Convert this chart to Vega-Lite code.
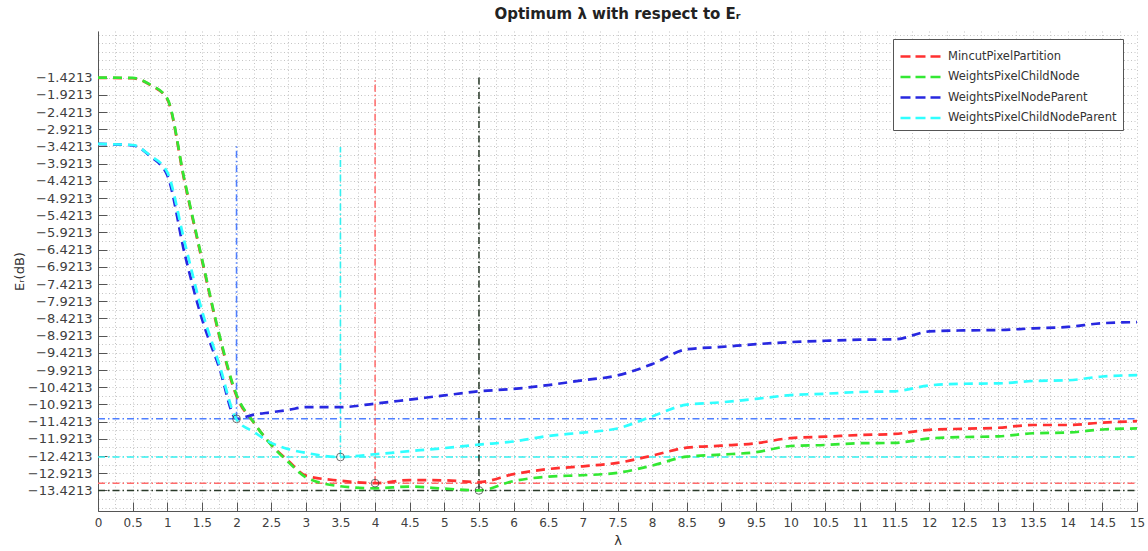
{
  "$schema": "https://vega.github.io/schema/vega-lite/v6.json",
  "width": 1039,
  "height": 480,
  "autosize": {"type": "none"},
  "padding": {"left": 98, "top": 31, "right": 11, "bottom": 40},
  "background": "white",
  "title": {"text": "Optimum λ with respect to Eᵣ", "font": "DejaVu Sans", "fontSize": 15, "fontWeight": "bold", "color": "#222222", "anchor": "middle", "offset": 9},
  "config": {"view": {"stroke": null}, "axis": {"labelOverlap": false}},
  "datasets": {
    "curves": [
      {"series": "MincutPixelPartition", "x": 0, "y": -1.43},
      {"series": "MincutPixelPartition", "x": 0.5, "y": -1.44},
      {"series": "MincutPixelPartition", "x": 0.75, "y": -1.63},
      {"series": "MincutPixelPartition", "x": 1, "y": -2.05},
      {"series": "MincutPixelPartition", "x": 1.25, "y": -4.45},
      {"series": "MincutPixelPartition", "x": 1.5, "y": -6.72},
      {"series": "MincutPixelPartition", "x": 1.75, "y": -8.92},
      {"series": "MincutPixelPartition", "x": 2, "y": -10.68},
      {"series": "MincutPixelPartition", "x": 2.25, "y": -11.45},
      {"series": "MincutPixelPartition", "x": 2.5, "y": -12.09},
      {"series": "MincutPixelPartition", "x": 2.75, "y": -12.57},
      {"series": "MincutPixelPartition", "x": 3, "y": -12.99},
      {"series": "MincutPixelPartition", "x": 3.5, "y": -13.14},
      {"series": "MincutPixelPartition", "x": 4, "y": -13.21},
      {"series": "MincutPixelPartition", "x": 4.5, "y": -13.12},
      {"series": "MincutPixelPartition", "x": 5, "y": -13.13},
      {"series": "MincutPixelPartition", "x": 5.5, "y": -13.18},
      {"series": "MincutPixelPartition", "x": 6, "y": -12.95},
      {"series": "MincutPixelPartition", "x": 6.5, "y": -12.8},
      {"series": "MincutPixelPartition", "x": 7, "y": -12.72},
      {"series": "MincutPixelPartition", "x": 7.5, "y": -12.62},
      {"series": "MincutPixelPartition", "x": 8, "y": -12.41},
      {"series": "MincutPixelPartition", "x": 8.5, "y": -12.18},
      {"series": "MincutPixelPartition", "x": 9, "y": -12.12},
      {"series": "MincutPixelPartition", "x": 9.5, "y": -12.05},
      {"series": "MincutPixelPartition", "x": 10, "y": -11.9},
      {"series": "MincutPixelPartition", "x": 10.5, "y": -11.86},
      {"series": "MincutPixelPartition", "x": 11, "y": -11.81},
      {"series": "MincutPixelPartition", "x": 11.5, "y": -11.78},
      {"series": "MincutPixelPartition", "x": 12, "y": -11.66},
      {"series": "MincutPixelPartition", "x": 12.5, "y": -11.63},
      {"series": "MincutPixelPartition", "x": 13, "y": -11.6},
      {"series": "MincutPixelPartition", "x": 13.5, "y": -11.52},
      {"series": "MincutPixelPartition", "x": 14, "y": -11.52},
      {"series": "MincutPixelPartition", "x": 14.5, "y": -11.45},
      {"series": "MincutPixelPartition", "x": 15, "y": -11.41},

      {"series": "WeightsPixelChildNode", "x": 0, "y": -1.4213},
      {"series": "WeightsPixelChildNode", "x": 0.5, "y": -1.43},
      {"series": "WeightsPixelChildNode", "x": 0.75, "y": -1.62},
      {"series": "WeightsPixelChildNode", "x": 1, "y": -2.03},
      {"series": "WeightsPixelChildNode", "x": 1.25, "y": -4.41},
      {"series": "WeightsPixelChildNode", "x": 1.5, "y": -6.68},
      {"series": "WeightsPixelChildNode", "x": 1.75, "y": -8.88},
      {"series": "WeightsPixelChildNode", "x": 2, "y": -10.64},
      {"series": "WeightsPixelChildNode", "x": 2.25, "y": -11.45},
      {"series": "WeightsPixelChildNode", "x": 2.5, "y": -12.1},
      {"series": "WeightsPixelChildNode", "x": 2.75, "y": -12.6},
      {"series": "WeightsPixelChildNode", "x": 3, "y": -13.04},
      {"series": "WeightsPixelChildNode", "x": 3.5, "y": -13.3},
      {"series": "WeightsPixelChildNode", "x": 4, "y": -13.36},
      {"series": "WeightsPixelChildNode", "x": 4.5, "y": -13.31},
      {"series": "WeightsPixelChildNode", "x": 5, "y": -13.37},
      {"series": "WeightsPixelChildNode", "x": 5.5, "y": -13.4213},
      {"series": "WeightsPixelChildNode", "x": 6, "y": -13.15},
      {"series": "WeightsPixelChildNode", "x": 6.5, "y": -13.02},
      {"series": "WeightsPixelChildNode", "x": 7, "y": -12.98},
      {"series": "WeightsPixelChildNode", "x": 7.5, "y": -12.91},
      {"series": "WeightsPixelChildNode", "x": 8, "y": -12.7},
      {"series": "WeightsPixelChildNode", "x": 8.5, "y": -12.44},
      {"series": "WeightsPixelChildNode", "x": 9, "y": -12.38},
      {"series": "WeightsPixelChildNode", "x": 9.5, "y": -12.31},
      {"series": "WeightsPixelChildNode", "x": 10, "y": -12.13},
      {"series": "WeightsPixelChildNode", "x": 10.5, "y": -12.1},
      {"series": "WeightsPixelChildNode", "x": 11, "y": -12.05},
      {"series": "WeightsPixelChildNode", "x": 11.5, "y": -12.04},
      {"series": "WeightsPixelChildNode", "x": 12, "y": -11.91},
      {"series": "WeightsPixelChildNode", "x": 12.5, "y": -11.87},
      {"series": "WeightsPixelChildNode", "x": 13, "y": -11.85},
      {"series": "WeightsPixelChildNode", "x": 13.5, "y": -11.76},
      {"series": "WeightsPixelChildNode", "x": 14, "y": -11.74},
      {"series": "WeightsPixelChildNode", "x": 14.5, "y": -11.65},
      {"series": "WeightsPixelChildNode", "x": 15, "y": -11.62},

      {"series": "WeightsPixelNodeParent", "x": 0, "y": -3.35},
      {"series": "WeightsPixelNodeParent", "x": 0.5, "y": -3.39},
      {"series": "WeightsPixelNodeParent", "x": 0.75, "y": -3.7},
      {"series": "WeightsPixelNodeParent", "x": 1, "y": -4.26},
      {"series": "WeightsPixelNodeParent", "x": 1.25, "y": -6.53},
      {"series": "WeightsPixelNodeParent", "x": 1.5, "y": -8.43},
      {"series": "WeightsPixelNodeParent", "x": 1.75, "y": -9.85},
      {"series": "WeightsPixelNodeParent", "x": 2, "y": -11.34},
      {"series": "WeightsPixelNodeParent", "x": 2.25, "y": -11.22},
      {"series": "WeightsPixelNodeParent", "x": 2.5, "y": -11.15},
      {"series": "WeightsPixelNodeParent", "x": 2.75, "y": -11.08},
      {"series": "WeightsPixelNodeParent", "x": 3, "y": -11.0},
      {"series": "WeightsPixelNodeParent", "x": 3.5, "y": -11.0},
      {"series": "WeightsPixelNodeParent", "x": 4, "y": -10.9},
      {"series": "WeightsPixelNodeParent", "x": 4.5, "y": -10.78},
      {"series": "WeightsPixelNodeParent", "x": 5, "y": -10.66},
      {"series": "WeightsPixelNodeParent", "x": 5.5, "y": -10.54},
      {"series": "WeightsPixelNodeParent", "x": 6, "y": -10.47},
      {"series": "WeightsPixelNodeParent", "x": 6.5, "y": -10.36},
      {"series": "WeightsPixelNodeParent", "x": 7, "y": -10.22},
      {"series": "WeightsPixelNodeParent", "x": 7.5, "y": -10.08},
      {"series": "WeightsPixelNodeParent", "x": 8, "y": -9.75},
      {"series": "WeightsPixelNodeParent", "x": 8.5, "y": -9.32},
      {"series": "WeightsPixelNodeParent", "x": 9, "y": -9.25},
      {"series": "WeightsPixelNodeParent", "x": 9.5, "y": -9.17},
      {"series": "WeightsPixelNodeParent", "x": 10, "y": -9.11},
      {"series": "WeightsPixelNodeParent", "x": 10.5, "y": -9.07},
      {"series": "WeightsPixelNodeParent", "x": 11, "y": -9.04},
      {"series": "WeightsPixelNodeParent", "x": 11.5, "y": -9.03},
      {"series": "WeightsPixelNodeParent", "x": 12, "y": -8.8},
      {"series": "WeightsPixelNodeParent", "x": 12.5, "y": -8.77},
      {"series": "WeightsPixelNodeParent", "x": 13, "y": -8.76},
      {"series": "WeightsPixelNodeParent", "x": 13.5, "y": -8.71},
      {"series": "WeightsPixelNodeParent", "x": 14, "y": -8.67},
      {"series": "WeightsPixelNodeParent", "x": 14.5, "y": -8.56},
      {"series": "WeightsPixelNodeParent", "x": 15, "y": -8.53},

      {"series": "WeightsPixelChildNodeParent", "x": 0, "y": -3.35},
      {"series": "WeightsPixelChildNodeParent", "x": 0.5, "y": -3.38},
      {"series": "WeightsPixelChildNodeParent", "x": 0.75, "y": -3.68},
      {"series": "WeightsPixelChildNodeParent", "x": 1, "y": -4.17},
      {"series": "WeightsPixelChildNodeParent", "x": 1.25, "y": -6.2},
      {"series": "WeightsPixelChildNodeParent", "x": 1.5, "y": -8.19},
      {"series": "WeightsPixelChildNodeParent", "x": 1.75, "y": -9.75},
      {"series": "WeightsPixelChildNodeParent", "x": 2, "y": -11.36},
      {"series": "WeightsPixelChildNodeParent", "x": 2.25, "y": -11.72},
      {"series": "WeightsPixelChildNodeParent", "x": 2.5, "y": -12.04},
      {"series": "WeightsPixelChildNodeParent", "x": 2.75, "y": -12.22},
      {"series": "WeightsPixelChildNodeParent", "x": 3, "y": -12.33},
      {"series": "WeightsPixelChildNodeParent", "x": 3.5, "y": -12.45},
      {"series": "WeightsPixelChildNodeParent", "x": 4, "y": -12.37},
      {"series": "WeightsPixelChildNodeParent", "x": 4.5, "y": -12.28},
      {"series": "WeightsPixelChildNodeParent", "x": 5, "y": -12.19},
      {"series": "WeightsPixelChildNodeParent", "x": 5.5, "y": -12.09},
      {"series": "WeightsPixelChildNodeParent", "x": 6, "y": -12.0},
      {"series": "WeightsPixelChildNodeParent", "x": 6.5, "y": -11.84},
      {"series": "WeightsPixelChildNodeParent", "x": 7, "y": -11.74},
      {"series": "WeightsPixelChildNodeParent", "x": 7.5, "y": -11.62},
      {"series": "WeightsPixelChildNodeParent", "x": 8, "y": -11.27},
      {"series": "WeightsPixelChildNodeParent", "x": 8.5, "y": -10.93},
      {"series": "WeightsPixelChildNodeParent", "x": 9, "y": -10.86},
      {"series": "WeightsPixelChildNodeParent", "x": 9.5, "y": -10.76},
      {"series": "WeightsPixelChildNodeParent", "x": 10, "y": -10.65},
      {"series": "WeightsPixelChildNodeParent", "x": 10.5, "y": -10.61},
      {"series": "WeightsPixelChildNodeParent", "x": 11, "y": -10.56},
      {"series": "WeightsPixelChildNodeParent", "x": 11.5, "y": -10.54},
      {"series": "WeightsPixelChildNodeParent", "x": 12, "y": -10.37},
      {"series": "WeightsPixelChildNodeParent", "x": 12.5, "y": -10.32},
      {"series": "WeightsPixelChildNodeParent", "x": 13, "y": -10.31},
      {"series": "WeightsPixelChildNodeParent", "x": 13.5, "y": -10.24},
      {"series": "WeightsPixelChildNodeParent", "x": 14, "y": -10.22},
      {"series": "WeightsPixelChildNodeParent", "x": 14.5, "y": -10.11},
      {"series": "WeightsPixelChildNodeParent", "x": 15, "y": -10.07}
    ],
    "refs": [
      {"series": "WeightsPixelNodeParent", "x": 0, "x2": 15, "y": -11.34, "y2": -11.34},
      {"series": "WeightsPixelNodeParent", "x": 2, "x2": 2, "y": -11.34, "y2": -3.36},
      {"series": "WeightsPixelChildNodeParent", "x": 0, "x2": 15, "y": -12.45, "y2": -12.45},
      {"series": "WeightsPixelChildNodeParent", "x": 3.5, "x2": 3.5, "y": -12.45, "y2": -3.44},
      {"series": "MincutPixelPartition", "x": 0, "x2": 15, "y": -13.21, "y2": -13.21},
      {"series": "MincutPixelPartition", "x": 4, "x2": 4, "y": -13.21, "y2": -1.44},
      {"series": "WeightsPixelChildNode", "x": 0, "x2": 15, "y": -13.4213, "y2": -13.4213},
      {"series": "WeightsPixelChildNode", "x": 5.5, "x2": 5.5, "y": -13.4213, "y2": -1.40}
    ],
    "mins": [
      {"series": "WeightsPixelNodeParent", "x": 2, "y": -11.34},
      {"series": "WeightsPixelChildNodeParent", "x": 3.5, "y": -12.45},
      {"series": "MincutPixelPartition", "x": 4, "y": -13.21},
      {"series": "WeightsPixelChildNode", "x": 5.5, "y": -13.4213}
    ]
  },
  "layer": [
    {
      "data": {"name": "mins"},
      "mark": {"type": "point", "opacity": 0},
      "encoding": {
        "x": {
          "field": "x", "type": "quantitative",
          "scale": {"domain": [0, 15], "nice": false, "zero": false},
          "axis": {
            "orient": "bottom",
            "values": [0,0.25,0.5,0.75,1,1.25,1.5,1.75,2,2.25,2.5,2.75,3,3.25,3.5,3.75,4,4.25,4.5,4.75,5,5.25,5.5,5.75,6,6.25,6.5,6.75,7,7.25,7.5,7.75,8,8.25,8.5,8.75,9,9.25,9.5,9.75,10,10.25,10.5,10.75,11,11.25,11.5,11.75,12,12.25,12.5,12.75,13,13.25,13.5,13.75,14,14.25,14.5,14.75,15],
            "title": null, "labels": false, "ticks": false, "domain": false,
            "grid": true, "gridColor": "#c4c4c4", "gridDash": [1, 2.5], "gridWidth": 1
          }
        },
        "y": {
          "field": "y", "type": "quantitative",
          "scale": {"domain": [-14.02, -0.066], "nice": false, "zero": false},
          "axis": {
            "orient": "left",
            "values": [-13.9213,-13.6713,-13.4213,-13.1713,-12.9213,-12.6713,-12.4213,-12.1713,-11.9213,-11.6713,-11.4213,-11.1713,-10.9213,-10.6713,-10.4213,-10.1713,-9.9213,-9.6713,-9.4213,-9.1713,-8.9213,-8.6713,-8.4213,-8.1713,-7.9213,-7.6713,-7.4213,-7.1713,-6.9213,-6.6713,-6.4213,-6.1713,-5.9213,-5.6713,-5.4213,-5.1713,-4.9213,-4.6713,-4.4213,-4.1713,-3.9213,-3.6713,-3.4213,-3.1713,-2.9213,-2.6713,-2.4213,-2.1713,-1.9213,-1.6713,-1.4213,-1.1713,-0.9213,-0.6713,-0.4213,-0.1713],
            "title": null, "labels": false, "ticks": false, "domain": false,
            "grid": true, "gridColor": "#c4c4c4", "gridDash": [1, 2.5], "gridWidth": 1
          }
        }
      }
    },
    {
      "data": {"name": "refs"},
      "mark": {"type": "rule", "strokeDash": [7, 3, 1.5, 3]},
      "encoding": {
        "x": {
          "field": "x", "type": "quantitative", "title": "λ",
          "axis": {
            "orient": "bottom",
            "values": [0,0.5,1,1.5,2,2.5,3,3.5,4,4.5,5,5.5,6,6.5,7,7.5,8,8.5,9,9.5,10,10.5,11,11.5,12,12.5,13,13.5,14,14.5,15],
            "title": "λ",
            "titleFont": "DejaVu Sans", "titleFontSize": 13, "titleFontWeight": "normal", "titleColor": "#333333", "titlePadding": 6,
            "labelExpr": "''+datum.value",
            "labelFont": "DejaVu Sans", "labelFontSize": 12, "labelColor": "#404040", "labelPadding": 15, "labelFlush": false, "labelOverlap": false,
            "tickSize": -9, "tickColor": "#555555", "tickWidth": 1,
            "domainColor": "#555555", "domainWidth": 1,
            "grid": false
          }
        },
        "x2": {"field": "x2"},
        "y": {
          "field": "y", "type": "quantitative", "title": "Eᵣ(dB)",
          "axis": {
            "orient": "left",
            "values": [-13.4213,-12.9213,-12.4213,-11.9213,-11.4213,-10.9213,-10.4213,-9.9213,-9.4213,-8.9213,-8.4213,-7.9213,-7.4213,-6.9213,-6.4213,-5.9213,-5.4213,-4.9213,-4.4213,-3.9213,-3.4213,-2.9213,-2.4213,-1.9213,-1.4213],
            "title": "Eᵣ(dB)",
            "titleFont": "DejaVu Sans", "titleFontSize": 13, "titleFontWeight": "normal", "titleColor": "#333333", "titlePadding": 1,
            "labelExpr": "format(datum.value, '.4f')",
            "labelFont": "DejaVu Sans", "labelFontSize": 13, "labelColor": "#404040", "labelPadding": 15, "labelOverlap": false,
            "tickSize": -9, "tickColor": "#555555", "tickWidth": 1,
            "domainColor": "#555555", "domainWidth": 1,
            "grid": false
          }
        },
        "y2": {"field": "y2"},
        "color": {
          "field": "series", "type": "nominal", "legend": null,
          "scale": {"domain": ["MincutPixelPartition", "WeightsPixelChildNode", "WeightsPixelNodeParent", "WeightsPixelChildNodeParent"], "range": ["#ff6a6a", "#2a3a2a", "#4f7fff", "#33f0f0"]}
        },
        "strokeWidth": {
          "field": "series", "type": "nominal", "legend": null,
          "scale": {"domain": ["MincutPixelPartition", "WeightsPixelChildNode", "WeightsPixelNodeParent", "WeightsPixelChildNodeParent"], "range": [1.5, 1.6, 2, 1.2]}
        }
      }
    },
    {
      "data": {"name": "curves"},
      "mark": {"type": "line", "interpolate": "monotone", "strokeDash": [9, 6], "strokeWidth": 2.7},
      "encoding": {
        "x": {"field": "x", "type": "quantitative", "axis": null},
        "y": {"field": "y", "type": "quantitative", "axis": null},
        "color": {
          "field": "series", "type": "nominal",
          "scale": {"domain": ["MincutPixelPartition", "WeightsPixelChildNode", "WeightsPixelNodeParent", "WeightsPixelChildNodeParent"], "range": ["#ff3030", "#33e833", "#2828e0", "#30ffff"]},
          "legend": {
            "title": null, "orient": "none", "legendX": 795, "legendY": 8,
            "symbolType": "M-1,0H3", "symbolStrokeWidth": 2.5, "symbolDash": [10, 5], "symbolSize": 400,
            "labelFont": "DejaVu Sans", "labelFontSize": 11.5, "labelColor": "#333333", "labelLimit": 300,
            "strokeColor": "#555555", "fillColor": "white", "padding": 6, "rowPadding": 3.5, "labelOffset": 26
          }
        }
      }
    },
    {
      "data": {"name": "mins"},
      "mark": {"type": "point", "shape": "circle", "filled": false, "stroke": "#333333", "strokeWidth": 1, "size": 60},
      "encoding": {
        "x": {"field": "x", "type": "quantitative", "axis": null},
        "y": {"field": "y", "type": "quantitative", "axis": null}
      }
    }
  ],
  "resolve": {"scale": {"color": "independent"}, "axis": {"x": "independent", "y": "independent"}}
}
